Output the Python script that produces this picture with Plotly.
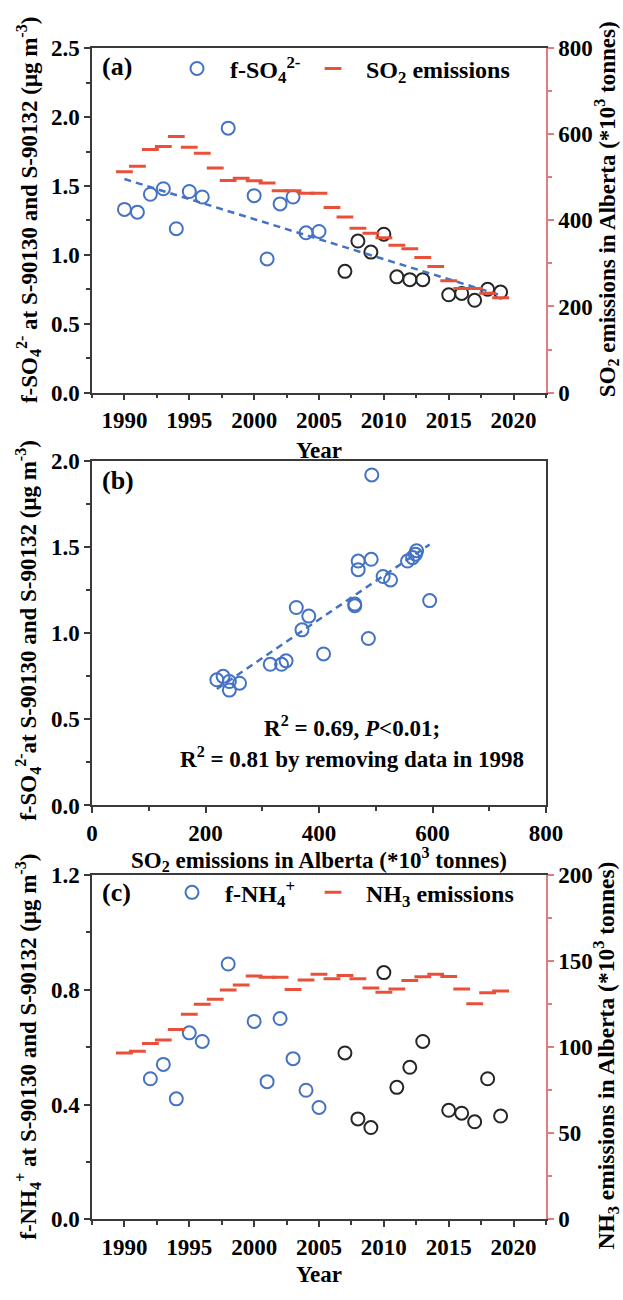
import numpy as np
import plotly.graph_objects as go

# ---------------- data ----------------
so4_years = [1990, 1991, 1992, 1993, 1994, 1995, 1996, 1998, 2000, 2001, 2002, 2003, 2004,
             2005, 2007, 2008, 2009, 2010, 2011, 2012, 2013, 2015, 2016, 2017, 2018, 2019]
so4_values = [1.33, 1.31, 1.44, 1.48, 1.19, 1.46, 1.42, 1.92, 1.43, 0.97, 1.37, 1.42, 1.16,
              1.17, 0.88, 1.10, 1.02, 1.15, 0.84, 0.82, 0.82, 0.71, 0.72, 0.67, 0.75, 0.73]

emis_years = list(range(1990, 2020))
so2_emissions = [513, 526, 565, 572, 595, 570, 556, 522, 493, 498, 492, 487, 469, 469, 463,
                 463, 430, 408, 382, 370, 360, 342, 334, 314, 293, 260, 242, 242, 231, 220]

nh4_years = [1992, 1993, 1994, 1995, 1996, 1998, 2000, 2001, 2002, 2003, 2004, 2005,
             2007, 2008, 2009, 2010, 2011, 2012, 2013, 2015, 2016, 2017, 2018, 2019]
nh4_values = [0.49, 0.54, 0.42, 0.65, 0.62, 0.89, 0.69, 0.48, 0.70, 0.56, 0.45, 0.39,
              0.58, 0.35, 0.32, 0.86, 0.46, 0.53, 0.62, 0.38, 0.37, 0.34, 0.49, 0.36]
nh3_emissions = [96.6, 97.7, 102.1, 104.2, 110.3, 119.2, 124.9, 127.8, 133.3, 136.1,
                 141.4, 140.7, 140.7, 133.5, 139.0, 142.4, 139.7, 141.6, 139.7, 134.4,
                 131.9, 133.8, 138.8, 140.9, 142.4, 141.1, 133.8, 125.3, 131.6, 132.7]

split_year = 2007  # later samples drawn in black

# ---------------- style ----------------
FONT = "Liberation Serif"
BLUE = "#4472C4"
DARK = "#262626"
RED = "#E8503A"
RED_AX = "#E07C7C"
AX = "#3a3a3a"
W, H = 623, 1300
L, R = 92, 77


def f(size, color="black"):
    return dict(family=FONT, size=size, color=color, weight="bold")


def py(px):  # pixel row -> paper y (t=b=0 margins)
    return 1 - px / H


def pxx(px):  # pixel column -> paper x
    return (px - L) / (W - L - R)


dom_a = [py(388), py(37)]
dom_b = [py(809), py(458)]
dom_c = [py(1231), py(880)]

fig = go.Figure()

circ = dict(symbol="circle-open", size=13, line=dict(width=2))
dash_m = dict(symbol="line-ew", size=12, color=RED, line=dict(width=3, color=RED))

# ---- panel (a)
ya = np.array(so4_years)
va = np.array(so4_values)
e = ya < split_year
fig.add_trace(go.Scatter(x=ya[e], y=va[e], mode="markers", xaxis="x", yaxis="y",
                         name="f-SO<sub>4</sub><sup>2-</sup>", legend="legend",
                         marker=dict(circ, color=BLUE, line=dict(width=2, color=BLUE))))
fig.add_trace(go.Scatter(x=ya[~e], y=va[~e], mode="markers", xaxis="x", yaxis="y",
                         showlegend=False,
                         marker=dict(circ, color=DARK, line=dict(width=2, color=DARK))))
ka, ba = np.polyfit(ya, va, 1)
xa_fit = np.array([ya.min(), ya.max()])
fig.add_trace(go.Scatter(x=xa_fit, y=ka * xa_fit + ba, mode="lines", xaxis="x", yaxis="y",
                         showlegend=False, line=dict(color=BLUE, width=2.5, dash="7px,5px")))
fig.add_trace(go.Scatter(x=emis_years, y=so2_emissions, mode="markers", xaxis="x", yaxis="y2",
                         name="SO<sub>2</sub> emissions", legend="legend3", marker=dash_m))

# ---- panel (b)
so2_map = dict(zip(emis_years, so2_emissions))
xb = np.array([so2_map[y] for y in so4_years], dtype=float)
fig.add_trace(go.Scatter(x=xb, y=va, mode="markers", xaxis="x2", yaxis="y3", showlegend=False,
                         marker=dict(circ, color=BLUE, line=dict(width=2, color=BLUE))))
kb, bb = np.polyfit(xb, va, 1)
xb_fit = np.array([xb.min(), xb.max()])
fig.add_trace(go.Scatter(x=xb_fit, y=kb * xb_fit + bb, mode="lines", xaxis="x2", yaxis="y3",
                         showlegend=False, line=dict(color=BLUE, width=2.5, dash="7px,5px")))

# ---- panel (c)
yc = np.array(nh4_years)
vc = np.array(nh4_values)
ec = yc < split_year
fig.add_trace(go.Scatter(x=yc[ec], y=vc[ec], mode="markers", xaxis="x3", yaxis="y4",
                         name="f-NH<sub>4</sub><sup>+</sup>", legend="legend2",
                         marker=dict(circ, color=BLUE, line=dict(width=2, color=BLUE))))
fig.add_trace(go.Scatter(x=yc[~ec], y=vc[~ec], mode="markers", xaxis="x3", yaxis="y4",
                         showlegend=False,
                         marker=dict(circ, color=DARK, line=dict(width=2, color=DARK))))
fig.add_trace(go.Scatter(x=emis_years, y=nh3_emissions, mode="markers", xaxis="x3", yaxis="y5",
                         name="NH<sub>3</sub> emissions", legend="legend4", marker=dash_m))

# ---------------- axes ----------------
TF = f(23)


def xyear(anchor):
    return dict(domain=[0, 1], anchor=anchor, range=[1987.5, 2022.5], tick0=1990, dtick=5,
                ticks="outside", ticklen=6, tickwidth=1.5, tickcolor=AX,
                showline=True, linecolor=AX, linewidth=1.5, mirror=True,
                showgrid=False, zeroline=False, tickfont=TF,
                minor=dict(tick0=1987.5, dtick=2.5, ticks="outside", ticklen=4,
                           tickwidth=1.5, tickcolor=AX))


def yleft(domain, anchor, rng, dt, mdt, mirror=False):
    return dict(domain=domain, anchor=anchor, range=rng, dtick=dt, tick0=0, tickformat=".1f",
                ticks="outside", ticklen=6, tickwidth=1.5, tickcolor=AX,
                showline=True, linecolor=AX, linewidth=1.5, mirror=mirror,
                showgrid=False, zeroline=False, tickfont=TF,
                minor=dict(dtick=mdt, ticks="outside", ticklen=4, tickwidth=1.5, tickcolor=AX))


def yright(over, anchor, rng, dt, mdt):
    return dict(overlaying=over, anchor=anchor, side="right", range=rng, dtick=dt, tick0=0,
                ticks="outside", ticklen=6, tickwidth=1.5, tickcolor=RED_AX,
                showline=True, linecolor=RED_AX, linewidth=1.5,
                showgrid=False, zeroline=False, tickfont=TF,
                minor=dict(dtick=mdt, ticks="outside", ticklen=4, tickwidth=1.5,
                           tickcolor=RED_AX))


fig.update_layout(
    xaxis=xyear("y"),
    yaxis=yleft(dom_a, "x", [0, 2.5], 0.5, 0.25),
    yaxis2=yright("y", "x", [0, 800], 200, 100),
    xaxis2=dict(domain=[0, 1], anchor="y3", range=[0, 800], dtick=200, tick0=0,
                ticks="outside", ticklen=6, tickwidth=1.5, tickcolor=AX,
                showline=True, linecolor=AX, linewidth=1.5, mirror=True,
                showgrid=False, zeroline=False, tickfont=TF,
                minor=dict(dtick=100, ticks="outside", ticklen=4, tickwidth=1.5,
                           tickcolor=AX)),
    yaxis3=yleft(dom_b, "x2", [0, 2.0], 0.5, 0.25, mirror=True),
    xaxis3=xyear("y4"),
    yaxis4=yleft(dom_c, "x3", [0, 1.2], 0.4, 0.2),
    yaxis5=yright("y4", "x3", [0, 200], 50, 25),
)

# ---------------- legends (one entry each, placed like the original) ----------------
leg = dict(orientation="v", xanchor="left", yanchor="middle", font=f(24),
           bgcolor="rgba(0,0,0,0)", borderwidth=0, itemwidth=56)
fig.update_layout(
    legend=dict(leg, x=pxx(164), y=py(58)),
    legend3=dict(leg, x=pxx(300), y=py(58)),
    legend2=dict(leg, x=pxx(159), y=py(898)),
    legend4=dict(leg, x=pxx(300), y=py(898)),
)

# ---------------- annotations ----------------
ann = []


def add(text, x, y, size, angle=0, xanchor="center", yanchor="middle"):
    ann.append(dict(text=text, x=x, y=y, xref="paper", yref="paper", showarrow=False,
                    font=f(size), textangle=angle, xanchor=xanchor, yanchor=yanchor))


add("(a)", pxx(100), py(56), 26, xanchor="left")
add("(b)", pxx(100), py(478), 26, xanchor="left")
add("(c)", pxx(100), py(898), 26, xanchor="left")
add("R<sup>2</sup> = 0.69, <i>P</i>&lt;0.01;", pxx(352), py(728), 23)
add("R<sup>2</sup> = 0.81 by removing data in 1998", pxx(352), py(760), 23)

left_a = "f-SO<sub>4</sub><sup>2-</sup> at S-90130 and S-90132 (μg m<sup>-3</sup>)"
left_b = "f-SO<sub>4</sub><sup>2-</sup>at S-90130 and S-90132 (μg m<sup>-3</sup>)"
left_c = "f-NH<sub>4</sub><sup>+</sup> at S-90130 and S-90132 (μg m<sup>-3</sup>)"
right_a = "SO<sub>2</sub> emissions in Alberta (*10<sup>3</sup> tonnes)"
right_c = "NH<sub>3</sub> emissions in Alberta (*10<sup>3</sup> tonnes)"
add(left_a, pxx(28), py(202), 23, angle=-90)
add(left_b, pxx(28), py(631), 23, angle=-90)
add(left_c, pxx(28), py(1055), 23, angle=-90)
add(right_a, pxx(606), py(201), 23, angle=-90)
add(right_c, pxx(606), py(1064), 23.5, angle=-90)
add("Year", 0.5, py(447), 23)
add("SO<sub>2</sub> emissions in Alberta (*10<sup>3</sup> tonnes)", 0.5, py(864), 23)
add("Year", 0.5, py(1287), 23)

fig.update_layout(
    annotations=ann,
    width=W, height=H,
    margin=dict(l=L, r=R, t=0, b=0, pad=0),
    paper_bgcolor="white", plot_bgcolor="white",
    font=f(22),
    showlegend=True,
)

fig.write_html("out.html")
